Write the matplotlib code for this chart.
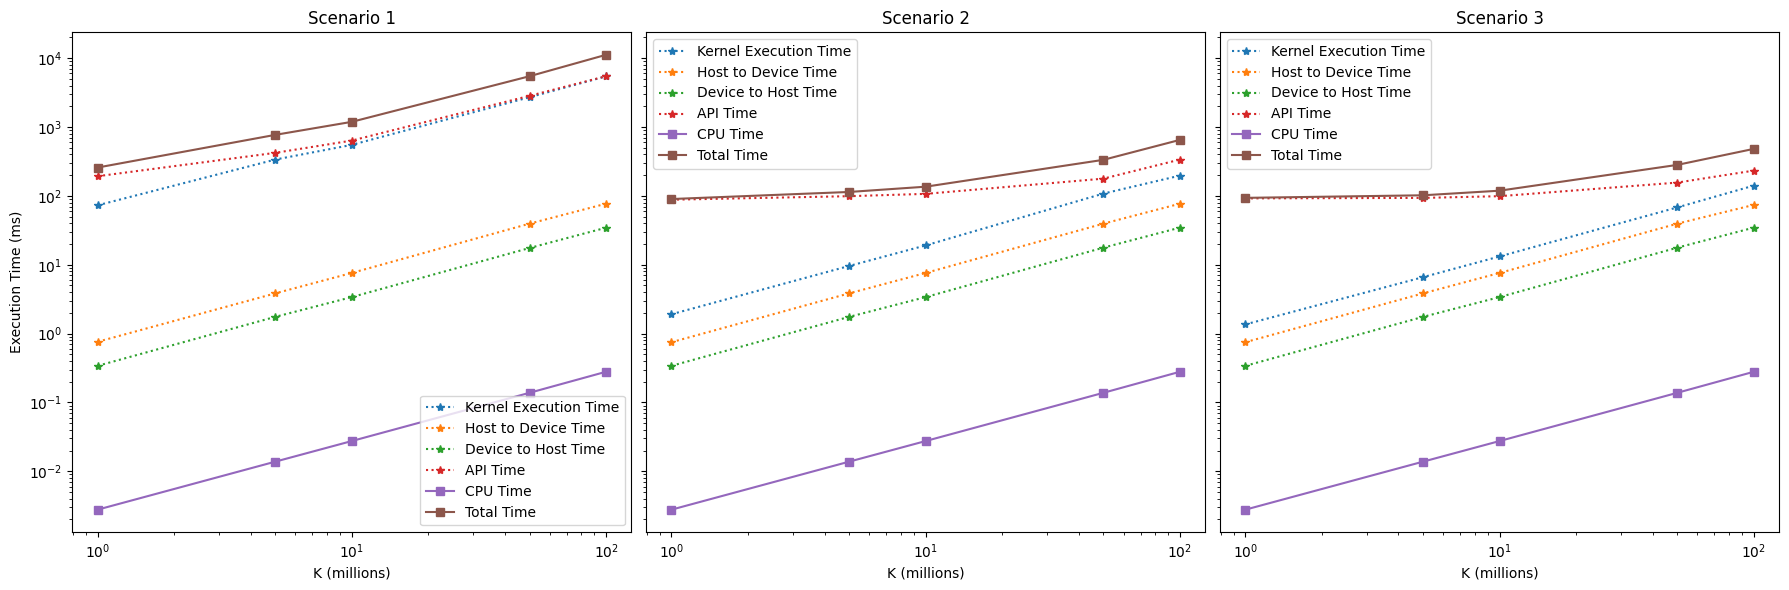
import matplotlib
matplotlib.use("Agg")
import matplotlib.pyplot as plt

# problem size (millions)
K = [1, 5, 10, 50, 100]

# Scenario 1
s1_kernel = [73, 337, 551, 2710, 5450]
s1_h2d = [0.76, 3.84, 7.6, 39.5, 77]
s1_d2h = [0.34, 1.75, 3.39, 17.5, 34.5]
s1_api = [193, 422, 636, 2840, 5470]
s1_cpu = [0.00277, 0.0138, 0.0275, 0.138, 0.279]
s1_total = [258, 770, 1190, 5470, 11200]

# Scenario 2
s2_kernel = [1.91, 9.6, 19.1, 108, 197]
s2_h2d = [0.75, 3.84, 7.6, 39.5, 77]
s2_d2h = [0.34, 1.75, 3.39, 17.7, 34.6]
s2_api = [88, 99, 107, 178, 337]
s2_cpu = [0.00277, 0.0138, 0.0275, 0.138, 0.279]
s2_total = [90, 114, 136, 334, 651]

# Scenario 3
s3_kernel = [1.36, 6.6, 13.2, 68, 141]
s3_h2d = [0.75, 3.84, 7.6, 39.5, 74]
s3_d2h = [0.34, 1.75, 3.39, 17.7, 34.6]
s3_api = [92, 93.5, 99, 156, 233]
s3_cpu = [0.00277, 0.0138, 0.0275, 0.138, 0.279]
s3_total = [93.6, 102, 119, 282, 482]

scenarios = [
    ("Scenario 1", s1_kernel, s1_h2d, s1_d2h, s1_api, s1_cpu, s1_total, "lower right"),
    ("Scenario 2", s2_kernel, s2_h2d, s2_d2h, s2_api, s2_cpu, s2_total, "upper left"),
    ("Scenario 3", s3_kernel, s3_h2d, s3_d2h, s3_api, s3_cpu, s3_total, "upper left"),
]

fig, axes = plt.subplots(1, 3, figsize=(17.89, 5.9), dpi=100, sharey=True)

for ax, (title, kern, h2d, d2h, api, cpu, total, loc) in zip(axes, scenarios):
    ax.plot(K, kern, ':*', label='Kernel Execution Time')
    ax.plot(K, h2d, ':*', label='Host to Device Time')
    ax.plot(K, d2h, ':*', label='Device to Host Time')
    ax.plot(K, api, ':*', label='API Time')
    ax.plot(K, cpu, '-s', label='CPU Time')
    ax.plot(K, total, '-s', label='Total Time')
    ax.set_xscale('log')
    ax.set_yscale('log')
    ax.set_title(title)
    ax.set_xlabel('K (millions)')
    ax.legend(loc=loc)

axes[0].set_ylabel('Execution Time (ms)')

plt.tight_layout(pad=0.7)
plt.savefig('out.png')
